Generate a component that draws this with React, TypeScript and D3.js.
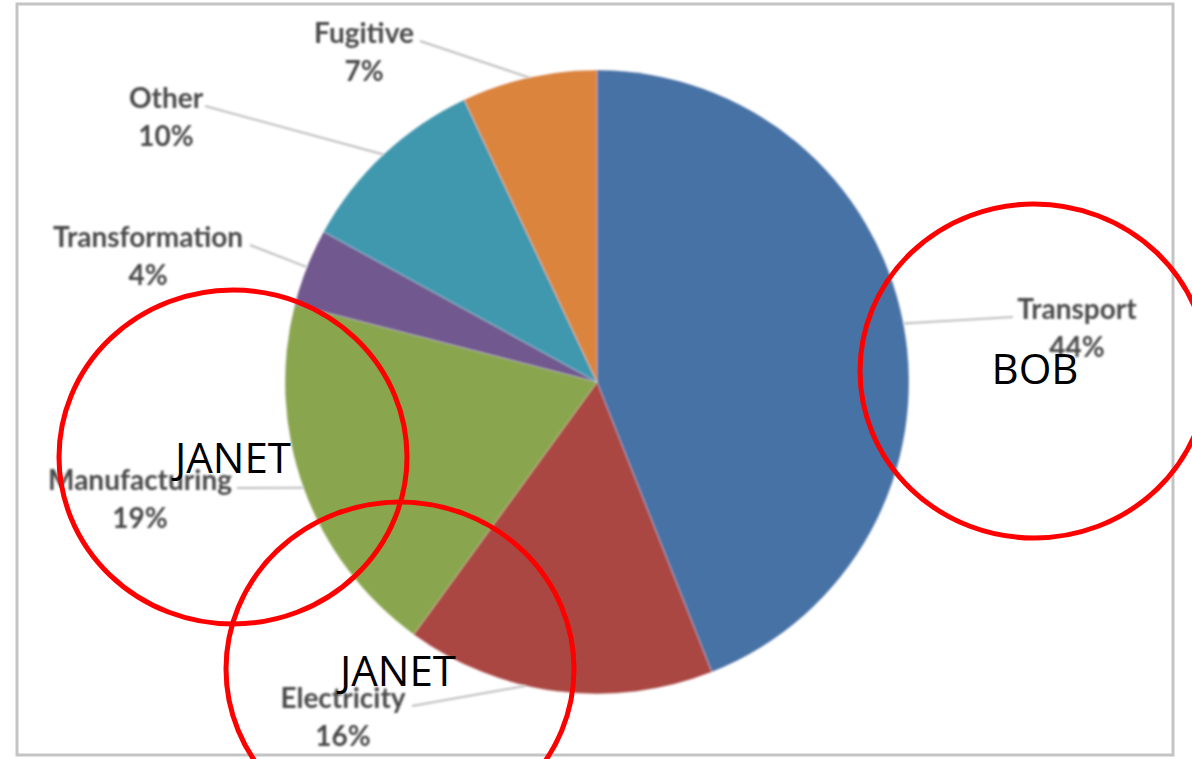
import React from "react";
import * as d3 from "d3";

// ---- Data ----
const categories = ["Transport", "Electricity", "Manufacturing", "Transformation", "Other", "Fugitive"];
const shares = [44, 16, 19, 4, 10, 7];
const sliceColors = ["#4672A6", "#AA4643", "#89A54E", "#71588F", "#4198AF", "#DB843D"];

// label layout: center x, baseline y, leader start x, leader angle tweak (deg)
const labelX = [1077, 343, 140, 148, 166, 364];
const labelY = [319, 708, 490, 247, 108, 43];
const leaderStartX = [1013, 412, 237, 250, 205, 420];
const leaderAngleTweak = [0, 6, 0, 0, 0, 0];

// overlay annotations
const noteTexts = ["JANET", "JANET", "BOB"];
const noteCx = [233, 400, 1034];
const noteCy = [457, 669, 371];
const noteTextX = [233, 398, 1035];
const noteTextY = [473, 686, 384];

const W = 1192;
const H = 759;
const CX = 597;
const CY = 382;
const R = 312;

export default function App() {
  const pie = d3.pie<number>().sort(null).value((d) => d).startAngle(0).endAngle(2 * Math.PI);
  const arcs = pie(shares);
  const arcGen = d3.arc<d3.PieArcDatum<number>>().innerRadius(0).outerRadius(R);
  const total = d3.sum(shares);

  return (
    <svg
      width={W}
      height={H}
      style={{ position: "absolute", left: 0, top: 0, background: "#fff" }}
      viewBox={`0 0 ${W} ${H}`}
    >
      <defs>
        <filter id="soft" x="-5%" y="-5%" width="110%" height="110%">
          <feGaussianBlur stdDeviation="0.9" />
        </filter>
        <filter id="softText" x="-10%" y="-30%" width="120%" height="160%">
          <feGaussianBlur stdDeviation="0.8" />
        </filter>
      </defs>
      {/* frame */}
      <rect x={17} y={4} width={1156} height={751} fill="#fff" stroke="#c4c4c4" strokeWidth={3} />

      {/* pie */}
      <g transform={`translate(${CX},${CY})`} filter="url(#soft)">
        {arcs.map((a, i) => (
          <path key={categories[i]} d={arcGen(a) || ""} fill={sliceColors[i]} stroke="rgba(255,255,255,0.25)" strokeWidth={1} />
        ))}
      </g>

      {/* leader lines and labels */}
      <g filter="url(#softText)">
        {arcs.map((a, i) => {
          const mid = (a.startAngle + a.endAngle) / 2 + (leaderAngleTweak[i] * Math.PI) / 180;
          const ex = CX + R * Math.sin(mid);
          const ey = CY - R * Math.cos(mid);
          return (
            <line
              key={"l" + i}
              x1={leaderStartX[i]}
              y1={labelY[i] - 2}
              x2={ex}
              y2={ey}
              stroke="#bdbdbd"
              strokeWidth={2}
            />
          );
        })}
        {categories.map((c, i) => (
          <g key={"t" + c} fontFamily="Lato, 'Open Sans', sans-serif" fontWeight={700} fill="#4a4a4a" textAnchor="middle">
            <text x={labelX[i]} y={labelY[i]} fontSize={28}>
              {c}
            </text>
            <text x={labelX[i]} y={labelY[i] + 38} fontSize={28}>
              {`${Math.round((shares[i] / total) * 100)}%`}
            </text>
          </g>
        ))}
      </g>

      {/* red annotation circles */}
      {noteTexts.map((t, i) => (
        <ellipse key={"n" + i} cx={noteCx[i]} cy={noteCy[i]} rx={174} ry={167} fill="none" stroke="#ff0000" strokeWidth={5} />
      ))}
      {noteTexts.map((t, i) => (
        <text
          key={"nt" + i}
          x={noteTextX[i]}
          y={noteTextY[i]}
          fontFamily="'Open Sans', sans-serif"
          fontSize={42}
          fill="#000"
          textAnchor="middle"
        >
          {t}
        </text>
      ))}
    </svg>
  );
}
